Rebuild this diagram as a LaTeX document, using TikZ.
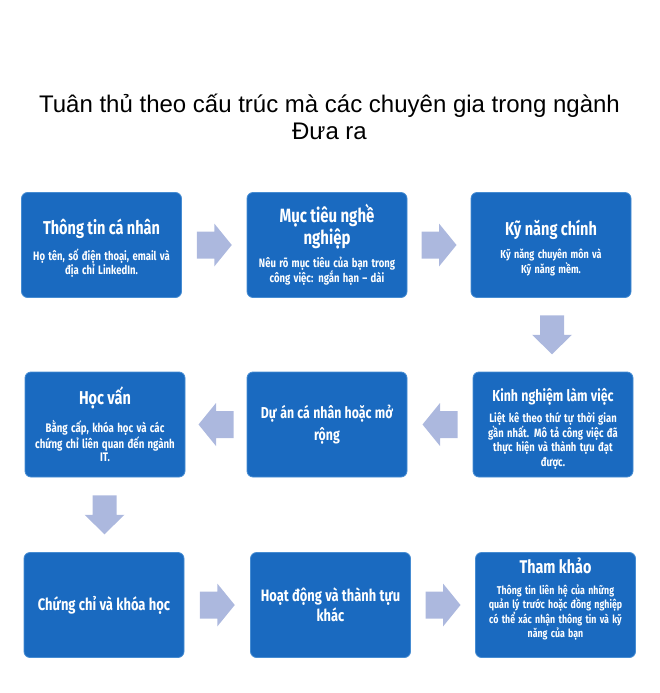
\documentclass[tikz,border=0pt]{standalone}
\usepackage{fontspec}
\setmainfont{Liberation Sans}
\newfontfamily\boxfont[FakeStretch=0.78]{Fira Sans}
\usetikzlibrary{calc}
\definecolor{boxblue}{RGB}{26,106,192}
\definecolor{boxedge}{RGB}{70,140,210}
\definecolor{arrowlav}{RGB}{172,184,222}
% heading of a card: size, baselineskip, text
\newcommand{\hd}[3]{{\fontsize{#1}{#2}\selectfont #3\par}}
% body of a card: size, baselineskip, text
\newcommand{\bd}[3]{{\fontsize{#1}{#2}\selectfont #3\par}}
\tikzset{
  card/.style={rectangle, rounded corners=6pt, fill=boxblue, draw=boxedge, line width=0.8pt,
    minimum width=160pt, minimum height=105pt, text width=154pt, align=center,
    text=white, font=\boxfont\bfseries, inner sep=2pt},
  headline/.style={font=\fontsize{24}{27}\selectfont, align=center, text=black},
  rarrow/.pic={\fill[arrowlav] (-17.5,-13.5) -- (0,-13.5) -- (0,-21.5) -- (17.5,0) -- (0,21.5) -- (0,13.5) -- (-17.5,13.5) -- cycle;},
  larrow/.pic={\fill[arrowlav] (17.5,-13.5) -- (0,-13.5) -- (0,-21.5) -- (-17.5,0) -- (0,21.5) -- (0,13.5) -- (17.5,13.5) -- cycle;},
  darrow/.pic={\fill[arrowlav] (-12,-19.5) -- (-12,0) -- (-20,0) -- (0,19.5) -- (20,0) -- (12,0) -- (12,-19.5) -- cycle;}
}
\begin{document}
\begin{tikzpicture}[x=1pt,y=-1pt]
\useasboundingbox (0,0) rectangle (659,693);
\node[headline] (title) at (329.5,117) {Tuân thủ theo cấu trúc mà các chuyên gia trong ngành\\Đưa ra};

\node[card] (b1) at (101.5,245) {\hd{18.6}{22}{Thông tin cá nhân}\vspace{9pt}\bd{12.2}{14}{Họ tên, số điện thoại, email và\\địa chỉ LinkedIn.}\vspace{-7pt}};
\node[card] (b2) at (327,245) {\hd{19.2}{22}{Mục tiêu nghề\\nghiệp}\vspace{7pt}\bd{12.2}{15}{Nêu rõ mục tiêu của bạn trong\\công việc: ngắn hạn – dài}};
\node[card] (b3) at (551,245) {\hd{18.6}{22}{Kỹ năng chính}\vspace{9pt}\bd{11.6}{14.5}{Kỹ năng chuyên môn và\\Kỹ năng mềm.}\vspace{-6pt}};

\node[card] (b4) at (553,424.5) {\hd{15.9}{19}{Kinh nghiệm làm việc}\vspace{7pt}\bd{12.1}{14.5}{Liệt kê theo thứ tự thời gian\\gần nhất. Mô tả công việc đã\\thực hiện và thành tựu đạt\\được.}\vspace{-8pt}};
\node[card] (b5) at (327,424.5) {\hd{15.8}{22}{Dự án cá nhân hoặc mở\\rộng}};
\node[card] (b6) at (105,424.5) {\hd{18.6}{22}{Học vấn}\vspace{10pt}\bd{12.4}{13.5}{Bằng cấp, khóa học và các\\chứng chỉ liên quan đến ngành\\IT.}};

\node[card] (b7) at (104,605) {\hd{16.6}{20}{Chứng chỉ và khóa học}};
\node[card] (b8) at (330.5,605) {\hd{16.5}{20}{Hoạt động và thành tựu\\khác}};
\node[card] (b9) at (555.5,605) {\hd{18.4}{22}{Tham khảo}\vspace{6.5pt}\bd{11.3}{14.5}{Thông tin liên hệ của những\\quản lý trước hoặc đồng nghiệp\\có thể xác nhận thông tin và kỹ\\năng của bạn}\vspace{12pt}};

\pic at ($(b1.east)!0.5!(b2.west)$) {rarrow};
\pic at ($(b2.east)!0.5!(b3.west)$) {rarrow};
\pic at ($(b3.south)!0.5!(b4.north)$) {darrow};
\pic at ($(b4.west)!0.5!(b5.east)$) {larrow};
\pic at ($(b5.west)!0.5!(b6.east)$) {larrow};
\pic at ($(b6.south)!0.5!(b7.north)$) {darrow};
\pic at ($(b7.east)!0.5!(b8.west)$) {rarrow};
\pic at ($(b8.east)!0.5!(b9.west)$) {rarrow};
\end{tikzpicture}
\end{document}
